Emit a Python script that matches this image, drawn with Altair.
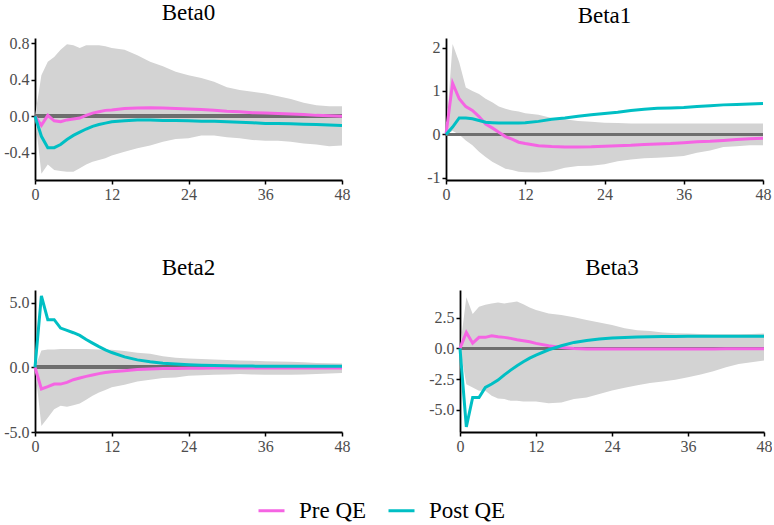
import altair as alt
import pandas as pd

MONTHS = list(range(0, 13)) + list(range(14, 49, 2))
SERIES = ["Pre QE", "Post QE"]
PINK = "#F564E3"
TEAL = "#00BFC4"

# ---- Beta0 ----
B0_HI = [0, .45, .60, .65, .73, .79, .78, .75, .78, .78, .78, .77, .75, .73, .67, .60, .55, .49, .45, .42,
         .38, .32, .29, .27, .25, .22, .19, .15, .12, .11, .11]
B0_LO = [0, -.63, -.53, -.59, -.60, -.61, -.61, -.57, -.53, -.50, -.48, -.46, -.43, -.39, -.35, -.32, -.28,
         -.25, -.24, -.21, -.21, -.23, -.24, -.26, -.27, -.27, -.28, -.30, -.31, -.33, -.32]
B0_PRE = [0, -.10, .01, -.05, -.06, -.04, -.03, -.02, .01, .035, .05, .065, .07, .085, .09, .095, .09, .085,
          .08, .075, .065, .055, .05, .04, .035, .03, .025, .02, .01, .005, 0]
B0_POST = [0, -.22, -.345, -.345, -.31, -.255, -.21, -.175, -.14, -.11, -.09, -.075, -.06, -.05, -.04, -.04,
           -.045, -.045, -.05, -.055, -.055, -.06, -.065, -.07, -.08, -.08, -.083, -.087, -.09, -.095, -.10]

# ---- Beta1 ----
B1_HI = [0, 2.08, 1.66, 1.08, 1.0, .93, .82, .74, .64, .59, .55, .53, .49, .45, .38, .35, .31, .29, .27, .26,
         .25, .25, .25, .25, .25, .25, .25, .25, .25, .25, .25]
B1_LO = [0, .08, 0, -.14, -.25, -.40, -.52, -.63, -.71, -.79, -.82, -.86, -.87, -.88, -.85, -.77, -.73, -.72,
         -.69, -.62, -.58, -.55, -.54, -.52, -.50, -.42, -.37, -.29, -.27, -.25, -.25]
B1_PRE = [0, 1.18, .82, .64, .55, .41, .24, .15, .05, -.05, -.11, -.18, -.21, -.26, -.28, -.29, -.29, -.285,
          -.27, -.26, -.25, -.23, -.22, -.21, -.19, -.17, -.16, -.14, -.12, -.10, -.09]
B1_POST = [0, .17, .38, .38, .36, .32, .28, .27, .26, .26, .26, .26, .27, .30, .35, .38, .42, .45, .48, .51,
           .55, .58, .60, .61, .62, .64, .66, .68, .69, .70, .71]

# ---- Beta2 ----
B2_HI = [0, 1.3, 1.37, 1.37, 1.42, 1.42, 1.42, 1.42, 1.42, 1.4, 1.37, 1.36, 1.35, 1.25, 1.12, 1.04, .86, .73,
         .68, .64, .60, .56, .52, .50, .47, .45, .42, .38, .34, .32, .29]
B2_LO = [0, -4.53, -3.9, -3.24, -2.98, -3.05, -2.93, -2.8, -2.51, -2.2, -1.94, -1.76, -1.55, -1.35, -1.09,
         -.96, -.83, -.78, -.65, -.61, -.57, -.55, -.52, -.55, -.57, -.57, -.57, -.55, -.52, -.48, -.44]
B2_PRE = [0, -1.68, -1.5, -1.3, -1.3, -1.17, -.96, -.83, -.7, -.6, -.49, -.41, -.34, -.26, -.18, -.13, -.1,
          -.09, -.08, -.07, -.06, -.06, -.05, -.05, -.05, -.05, -.05, -.05, -.05, -.05, -.05]
B2_POST = [0, 5.52, 3.68, 3.68, 3.03, 2.85, 2.67, 2.46, 2.15, 1.87, 1.6, 1.35, 1.14, .8, .57, .42, .32, .25,
           .2, .16, .13, .11, .1, .09, .08, .08, .07, .07, .07, .07, .07]

# ---- Beta3 ----
B3_HI = [0, 4.16, 2.8, 3.4, 3.56, 3.67, 3.75, 3.67, 3.75, 3.83, 3.6, 3.34, 3.13, 2.85, 2.72, 2.53, 2.31, 2.12,
         1.9, 1.64, 1.48, 1.42, 1.29, 1.24, 1.21, 1.18, 1.16, 1.16, 1.16, 1.18, 1.21]
B3_LO = [0, -2.91, -3.18, -3.45, -3.45, -3.86, -4.08, -4.13, -4.27, -4.27, -4.32, -4.32, -4.32, -4.46, -4.4,
         -4.13, -4.0, -3.72, -3.43, -3.2, -3.01, -2.82, -2.69, -2.55, -2.34, -2.12, -1.85, -1.53, -1.26, -1.13, -.99]
B3_PRE = [0, 1.3, .43, .9, .9, 1.03, .95, .9, .82, .71, .63, .54, .41, .22, .08, 0, -.05, -.05, -.05, -.05,
          -.05, -.05, -.05, -.05, -.05, -.05, -.04, -.03, -.02, -.02, -.02]
B3_POST = [0, -6.4, -4.0, -4.0, -3.18, -2.9, -2.58, -2.15, -1.77, -1.41, -1.09, -.79, -.54, -.11, .22, .49,
           .65, .76, .84, .89, .93, .95, .97, .98, 1.0, 1.0, 1.0, 1.0, 1.0, 1.0, 1.0]

X_TICKS = [0, 12, 24, 36, 48]
SERIF = "Liberation Serif"
AXIS_STYLE = dict(labelFont=SERIF, labelFontSize=16, labelColor="#4D4D4D", domainColor="black",
                  domainWidth=1.8, tickColor="black", tickWidth=1.5, tickSize=4, labelPadding=2,
                  grid=False, title=None, labelFlush=False, labelOverlap=False)


def panel(name, lo, hi, pre, post, ydom, yticks, fmt, width):
    band_df = pd.DataFrame({"month": MONTHS, "lo": lo, "hi": hi})
    pre_df = pd.DataFrame({"month": MONTHS, "value": pre, "series": "Pre QE"})
    post_df = pd.DataFrame({"month": MONTHS, "value": post, "series": "Post QE"})
    xenc = alt.X("month:Q", scale=alt.Scale(domain=[0, 48], nice=False, zero=False),
                 axis=alt.Axis(values=X_TICKS, **AXIS_STYLE))
    label_expr = "(datum.value < 0 ? '-' : '') + format(abs(datum.value), '%s')" % fmt
    yscale = alt.Scale(domain=ydom, nice=False, zero=False)
    band = alt.Chart(band_df).mark_area(color="#D3D3D3", opacity=1).encode(
        x=xenc,
        y=alt.Y("lo:Q", scale=yscale,
                axis=alt.Axis(values=yticks, labelExpr=label_expr, **AXIS_STYLE)),
        y2="hi:Q",
    )
    zero = alt.Chart(band_df).mark_rule(color="#6E6E6E", strokeWidth=3).encode(y=alt.datum(0))
    color = alt.Color("series:N", scale=alt.Scale(domain=SERIES, range=[PINK, TEAL]),
                      legend=alt.Legend(title=None))
    l_pre = alt.Chart(pre_df).mark_line(strokeWidth=3).encode(x="month:Q", y="value:Q", color=color)
    l_post = alt.Chart(post_df).mark_line(strokeWidth=3).encode(x="month:Q", y="value:Q", color=color)
    return alt.layer(band, zero, l_pre, l_post).properties(
        width=width, height=142,
        title=alt.TitleParams(name, offset=10, font=SERIF, fontSize=23, fontWeight="normal",
                              color="black", anchor="middle"))


p0 = panel("Beta0", B0_LO, B0_HI, B0_PRE, B0_POST, [-0.7, 0.86], [-0.4, 0, 0.4, 0.8], ".1f", 307)
p1 = panel("Beta1", B1_LO, B1_HI, B1_PRE, B1_POST, [-1.05, 2.22], [-1, 0, 1, 2], "d", 317)
p2 = panel("Beta2", B2_LO, B2_HI, B2_PRE, B2_POST, [-5.0, 5.97], [-5, -2.5, 0, 2.5, 5], ".1f", 307)
p3 = panel("Beta3", B3_LO, B3_HI, B3_PRE, B3_POST, [-6.81, 4.76], [-5, -2.5, 0, 2.5], ".1f", 304)

chart = alt.vconcat(
    alt.hconcat(p0, p1, spacing=76),
    alt.hconcat(p2, p3, spacing=78),
    spacing=54,
).properties(
    padding={"left": 3, "top": 2, "right": 0, "bottom": 0},
    background="white",
).configure_view(stroke=None).configure_legend(
    orient="none", direction="horizontal", legendX=222, legendY=458, symbolType="stroke",
    symbolSize=676, symbolStrokeWidth=3, labelFont=SERIF, labelFontSize=23, labelColor="black",
    columnPadding=15, labelOffset=13, labelLimit=0, title=None,
)

chart.save("out.html", embed_options={"renderer": "svg", "actions": False})
